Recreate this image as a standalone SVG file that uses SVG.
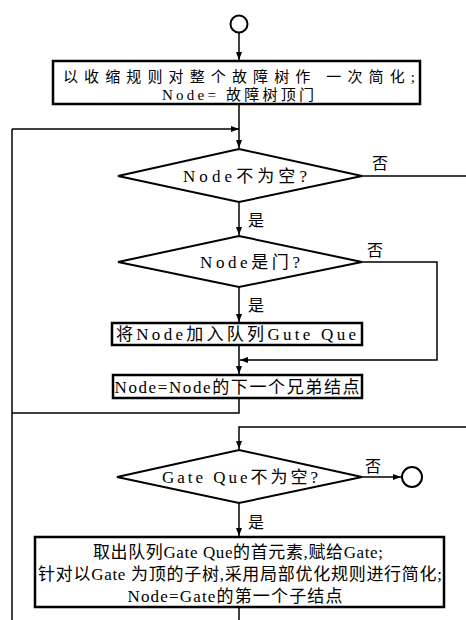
<svg xmlns="http://www.w3.org/2000/svg" width="466" height="620" viewBox="0 0 466 620">
<defs>
<marker id="ah" markerWidth="8" markerHeight="6" refX="8" refY="3" orient="auto" markerUnits="userSpaceOnUse">
<path d="M0,0 L8,3 L0,6 Z" fill="#000"/>
</marker>
<style>
.box{fill:#fff;stroke:#000;stroke-width:2.5}
.dia{fill:#fff;stroke:#000;stroke-width:2}
.term{fill:#fff;stroke:#000;stroke-width:2}
.ln{fill:none;stroke:#000;stroke-width:1.5}
.t{font-family:"Liberation Serif","Noto Sans CJK SC",serif;font-size:17px;fill:#000;text-anchor:middle}
.s{font-size:15px}
.lbl{font-family:"Liberation Serif","Noto Sans CJK SC",serif;font-size:16px;fill:#000}
</style>
</defs>
<rect width="466" height="620" fill="#fff"/>
<g id="connectors">
<line class="ln" x1="239" y1="33" x2="239" y2="60" marker-end="url(#ah)"/>
<line class="ln" x1="239" y1="104" x2="239" y2="148" marker-end="url(#ah)"/>
<line class="ln" x1="12" y1="129" x2="239" y2="129" marker-end="url(#ah)"/>
<line class="ln" x1="12" y1="129" x2="12" y2="620"/>
<line class="ln" x1="362" y1="176" x2="466" y2="176"/>
<line class="ln" x1="239" y1="202" x2="239" y2="235" marker-end="url(#ah)"/>
<polyline class="ln" points="362,262 437,262 437,360 240,360" marker-end="url(#ah)"/>
<line class="ln" x1="239" y1="287" x2="239" y2="322" marker-end="url(#ah)"/>
<line class="ln" x1="239" y1="345" x2="239" y2="374" marker-end="url(#ah)"/>
<polyline class="ln" points="239,398 239,413 12,413"/>
<polyline class="ln" points="466,427 239,427 239,449" marker-end="url(#ah)"/>
<line class="ln" x1="362" y1="477" x2="401" y2="477" marker-end="url(#ah)"/>
<line class="ln" x1="239" y1="503" x2="239" y2="536" marker-end="url(#ah)"/>
<line class="ln" x1="239" y1="607" x2="239" y2="620"/>
<text class="lbl" x="372" y="169">否</text>
<text class="lbl" x="367" y="256">否</text>
<text class="lbl" x="365" y="472">否</text>
<text class="lbl" x="248" y="226">是</text>
<text class="lbl" x="248" y="311">是</text>
<text class="lbl" x="248" y="528">是</text>
</g>
<g id="start">
<circle class="term" cx="239" cy="24" r="8.5"/>
</g>
<g id="init">
<rect class="box" x="53" y="61" width="367" height="43"/>
<text class="t s" x="239" y="82" textLength="352" lengthAdjust="spacing">以收缩规则对整个故障树作 一次简化;</text>
<text class="t s" x="238" y="100" textLength="152" lengthAdjust="spacing">Node= 故障树顶门</text>
</g>
<g id="cond1">
<polygon class="dia" points="118,176 239,149 362,176 239,202"/>
<text class="t" x="245" y="182" textLength="124" lengthAdjust="spacing">Node不为空?</text>
</g>
<g id="cond2">
<polygon class="dia" points="118,262 239,236 362,262 239,287"/>
<text class="t" x="250" y="268" textLength="100" lengthAdjust="spacing">Node是门?</text>
</g>
<g id="enqueue">
<rect class="box" x="112" y="323" width="250" height="22"/>
<text class="t" x="236" y="340" textLength="240" lengthAdjust="spacing">将Node加入队列Gute Que</text>
</g>
<g id="next">
<rect class="box" x="113" y="375" width="249" height="23"/>
<text class="t" x="237" y="393" textLength="245" lengthAdjust="spacing">Node=Node的下一个兄弟结点</text>
</g>
<g id="cond3">
<polygon class="dia" points="117,477 239,450 362,477 239,503"/>
<text class="t" x="240" y="483" textLength="156" lengthAdjust="spacing">Gate Que不为空?</text>
</g>
<g id="end">
<circle class="term" cx="412" cy="477" r="10"/>
</g>
<g id="process">
<rect class="box" x="35" y="537" width="409" height="70"/>
<text class="t" x="238" y="558" textLength="290" lengthAdjust="spacing">取出队列Gate Que的首元素,赋给Gate;</text>
<text class="t" x="240" y="580" textLength="404" lengthAdjust="spacing">针对以Gate 为顶的子树,采用局部优化规则进行简化;</text>
<text class="t" x="235" y="602" textLength="215" lengthAdjust="spacing">Node=Gate的第一个子结点</text>
</g>
</svg>
